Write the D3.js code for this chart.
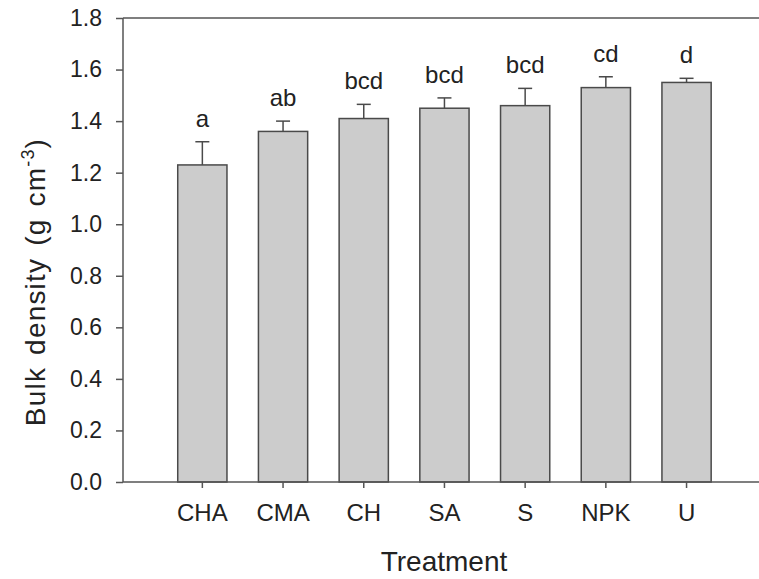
<!DOCTYPE html>
<html>
<head>
<meta charset="utf-8">
<script src="https://d3js.org/d3.v7.min.js"></script>
<style>
  body { margin: 0; background: #fff; }
  text { font-family: "Liberation Sans", Arial, Helvetica, sans-serif; fill: #222; }
</style>
</head>
<body>
<div id="chart"></div>
<script>
    // values
    let treatments = ["CHA", "CMA", "CH", "SA", "S", "NPK", "U"];
    let density = [1.23, 1.36, 1.41, 1.45, 1.46, 1.53, 1.55];
    let stdErr = [0.09, 0.04, 0.055, 0.04, 0.067, 0.042, 0.016];
    let letters = ["a", "ab", "bcd", "bcd", "bcd", "cd", "d"];
    let yTicks = [0.0, 0.2, 0.4, 0.6, 0.8, 1.0, 1.2, 1.4, 1.6, 1.8];

    let W = 759, H = 579;
    let margin = {top: 18, left: 123, bottom: 97},
        width = 660,
        height = H - margin.top - margin.bottom;

    let svg = d3.select("#chart")
        .append("svg")
            .attr("width", W)
            .attr("height", H)
        .append("g")
            .attr("transform", "translate(" + margin.left + "," + margin.top + ")");

    let yScale = d3.scaleLinear().domain([0, 1.8]).range([height, 0]);

    // bands: first centre ~80px in from the axis, step ~80.7px
    let xScale = d3.scaleBand()
        .domain(treatments)
        .range([39, 39 + 7 * 80.7])
        .paddingInner(0.39)
        .paddingOuter(0.195);

    let rows = treatments.map((t, i) => ({t: t, v: density[i], e: stdErr[i], l: letters[i]}));

    // top line of the frame, runs out past the right edge
    svg.append("line")
        .attr("x1", 0).attr("x2", width)
        .attr("y1", 0).attr("y2", 0)
        .attr("stroke", "#555").attr("stroke-width", 1.5);

    // bars
    svg.selectAll(".bar")
        .data(rows)
        .enter()
        .append("rect")
            .attr("class", "bar")
            .attr("x", d => xScale(d.t))
            .attr("y", d => yScale(d.v))
            .attr("width", xScale.bandwidth())
            .attr("height", d => height - yScale(d.v))
            .attr("fill", "#cccccc")
            .attr("stroke", "#4a4a4a")
            .attr("stroke-width", 1.5);

    // upper error bars
    let cx = d => xScale(d.t) + xScale.bandwidth() / 2;
    svg.selectAll(".err")
        .data(rows)
        .enter()
        .append("line")
            .attr("x1", cx).attr("x2", cx)
            .attr("y1", d => yScale(d.v))
            .attr("y2", d => yScale(d.v + d.e))
            .attr("stroke", "#4a4a4a").attr("stroke-width", 1.5);
    svg.selectAll(".cap")
        .data(rows)
        .enter()
        .append("line")
            .attr("x1", d => cx(d) - 7).attr("x2", d => cx(d) + 7)
            .attr("y1", d => yScale(d.v + d.e))
            .attr("y2", d => yScale(d.v + d.e))
            .attr("stroke", "#4a4a4a").attr("stroke-width", 1.5);

    // significance letters
    svg.selectAll(".lab")
        .data(rows)
        .enter()
        .append("text")
            .attr("x", cx)
            .attr("y", d => yScale(d.v + d.e) - 15)
            .attr("text-anchor", "middle")
            .style("font-size", "24px")
            .text(d => d.l);

    // y axis
    let yAxis = svg.append("g")
        .call(d3.axisLeft(yScale).tickValues(yTicks).tickFormat(d3.format(".1f")).tickSize(7).tickPadding(14));
    yAxis.select(".domain").attr("stroke", "#555").attr("stroke-width", 1.5).attr("d", "M0," + height + "V0");
    yAxis.selectAll(".tick line").attr("stroke", "#555").attr("stroke-width", 1.5);
    yAxis.selectAll(".tick text").style("font-size", "23px").style("font-family", "Liberation Sans, Arial, sans-serif").attr("fill", "#222");

    // x axis
    let xAxis = svg.append("g")
        .attr("transform", "translate(0," + height + ")")
        .call(d3.axisBottom(xScale).tickSize(6).tickPadding(16));
    xAxis.select(".domain").attr("stroke", "#555").attr("stroke-width", 1.5).attr("d", "M0,0H" + width);
    xAxis.selectAll(".tick line").attr("stroke", "#555").attr("stroke-width", 1.5);
    xAxis.selectAll(".tick text").style("font-size", "24px").style("font-family", "Liberation Sans, Arial, sans-serif").attr("fill", "#222");

    // x title
    svg.append("text")
        .attr("x", 444 - margin.left)
        .attr("y", height + 89)
        .attr("text-anchor", "middle")
        .style("font-size", "28px")
        .text("Treatment");

    // y title
    let yt = svg.append("text")
        .attr("transform", "translate(" + (45 - margin.left) + "," + (282 - margin.top) + ") rotate(-90)")
        .attr("text-anchor", "middle")
        .style("font-size", "28px")
        .style("letter-spacing", "1.2px")
        .style("word-spacing", "3px");
    yt.append("tspan").text("Bulk density (g cm");
    yt.append("tspan").attr("dy", -11).style("font-size", "18px").text("-3");
    yt.append("tspan").attr("dy", 11).text(")");
</script>
</body>
</html>
